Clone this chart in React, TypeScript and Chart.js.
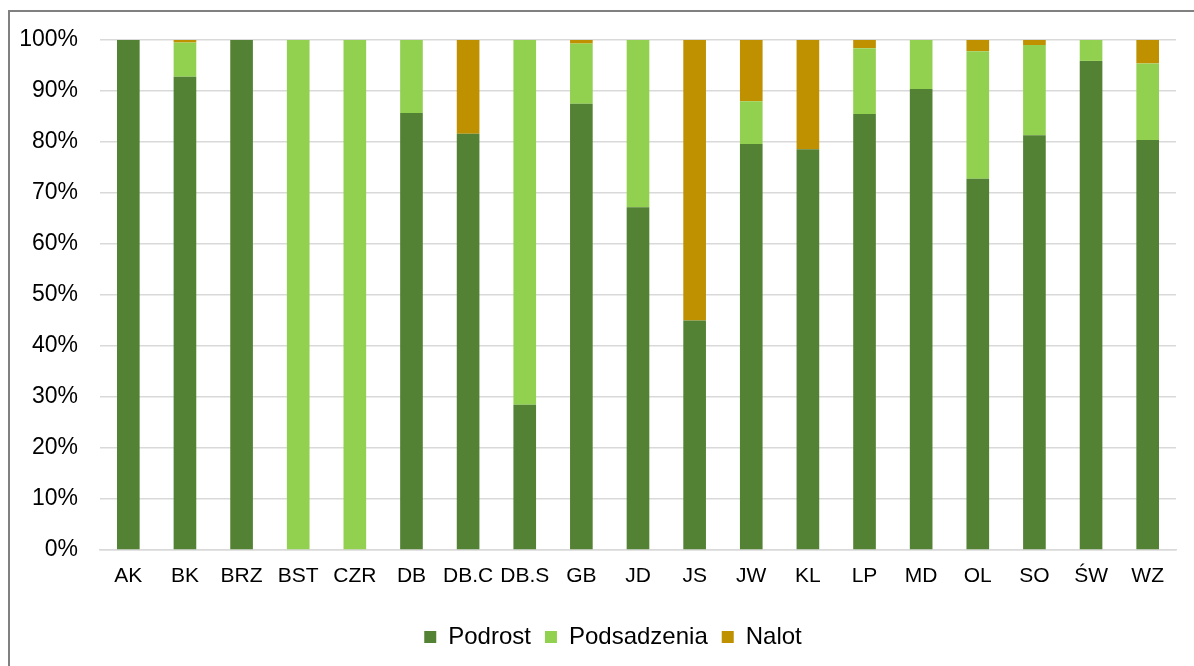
import React, { useEffect, useRef } from "react";
import { Chart, registerables } from "chart.js";

Chart.register(...registerables);

const categories = ["AK", "BK", "BRZ", "BST", "CZR", "DB", "DB.C", "DB.S", "GB", "JD", "JS", "JW", "KL", "LP", "MD", "OL", "SO", "ŚW", "WZ"];
const podrost = [100, 92.8, 100, 0, 0, 85.7, 81.6, 28.5, 87.5, 67.2, 45.0, 79.6, 78.6, 85.5, 90.4, 72.8, 81.3, 95.9, 80.4];
const podsadzenia = [0, 6.7, 0, 100, 100, 14.3, 0, 71.5, 11.8, 32.8, 0, 8.4, 0, 12.9, 9.6, 25.0, 17.7, 4.1, 15.0];
const nalot = [0, 0.5, 0, 0, 0, 0, 18.4, 0, 0.7, 0, 55.0, 12.0, 21.4, 1.6, 0, 2.2, 1.0, 0, 4.6];
const yTicks = [0, 10, 20, 30, 40, 50, 60, 70, 80, 90, 100];

const FONT = "'Liberation Sans', Arial, sans-serif";

const legendShift = {
  id: "legendShift",
  afterLayout(chart: any) {
    if (chart.legend) chart.legend.left = 50;
  },
};

export default function App() {
  const ref = useRef<HTMLCanvasElement | null>(null);

  useEffect(() => {
    if (!ref.current) return;
    const chart = new Chart(ref.current, {
      type: "bar",
      data: {
        labels: categories,
        datasets: [
          { label: "Podrost", data: podrost, backgroundColor: "#548235", borderWidth: 0 },
          { label: "Podsadzenia", data: podsadzenia, backgroundColor: "#92D050", borderWidth: 0 },
          { label: "Nalot", data: nalot, backgroundColor: "#BF9000", borderWidth: 0 },
        ],
      },
      plugins: [legendShift],
      options: {
        animation: false,
        responsive: false,
        maintainAspectRatio: false,
        devicePixelRatio: 1,
        layout: { padding: { left: 0, right: 18, top: 40, bottom: 7 } },
        datasets: { bar: { categoryPercentage: 1, barPercentage: 0.4 } },
        plugins: {
          tooltip: { enabled: false },
          legend: {
            position: "bottom",
            labels: {
              boxWidth: 12,
              boxHeight: 12,
              padding: 14,
              color: "#000",
              font: { family: FONT, size: 24 },
            },
          },
        },
        scales: {
          x: {
            stacked: true,
            grid: { display: false, drawTicks: false },
            border: { display: true, color: "#D9D9D9", width: 1.5 },
            ticks: { color: "#000", font: { family: FONT, size: 21 }, padding: 14, maxRotation: 0, autoSkip: false },
            afterFit: (s: any) => { s.height = 61; },
          },
          y: {
            stacked: true,
            min: 0,
            max: 100,
            afterBuildTicks: (s: any) => { s.ticks = yTicks.map((v) => ({ value: v })); },
            grid: { color: "#D9D9D9", lineWidth: 1.5, drawTicks: false },
            border: { display: false },
            ticks: { color: "#000", font: { family: FONT, size: 23 }, padding: 22, callback: (v: any) => v + "%" },
            afterFit: (s: any) => { s.width = 100; },
          },
        },
      },
    });
    return () => chart.destroy();
  }, []);

  return (
    <div style={{ position: "fixed", left: 0, top: 0, width: 1194, height: 666, background: "#fff", overflow: "hidden" }}>
      <div style={{ position: "absolute", left: 8, top: 10, width: 1300, height: 800, border: "2px solid #808080", boxSizing: "border-box" }} />
      <canvas ref={ref} width={1194} height={666} style={{ position: "absolute", left: 0, top: 0, width: 1194, height: 666 }} />
    </div>
  );
}
